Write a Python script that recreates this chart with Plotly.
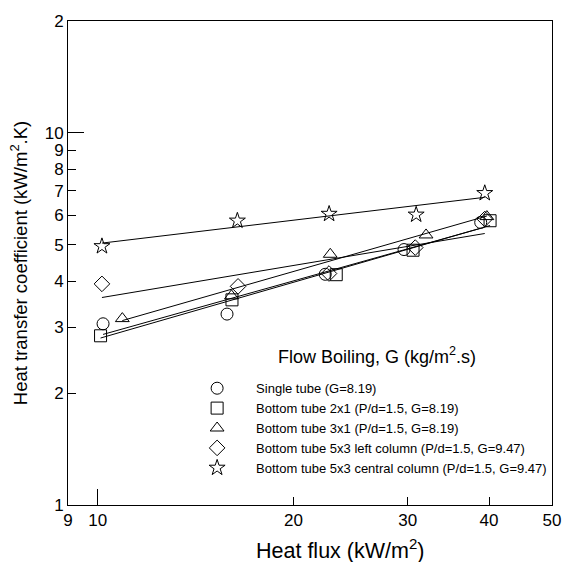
import numpy as np
import plotly.graph_objects as go

# ---- data ----
series_names = [
    "Single tube (G=8.19)",
    "Bottom tube 2x1 (P/d=1.5, G=8.19)",
    "Bottom tube 3x1 (P/d=1.5, G=8.19)",
    "Bottom tube 5x3 left column (P/d=1.5, G=9.47)",
    "Bottom tube 5x3 central column (P/d=1.5, G=9.47)",
]
q_single = [10.19, 15.81, 22.39, 29.6, 38.84]
h_single = [3.07, 3.26, 4.17, 4.86, 5.75]
q_2x1 = [10.1, 16.09, 23.28, 30.56, 40.15]
h_2x1 = [2.85, 3.56, 4.16, 4.84, 5.81]
q_3x1 = [10.91, 16.06, 22.79, 32.0, 39.7]
h_3x1 = [3.17, 3.65, 4.72, 5.32, 5.96]
q_left = [10.15, 16.44, 22.69, 30.8, 39.4]
h_left = [3.93, 3.87, 4.19, 4.92, 5.87]
q_central = [10.15, 16.4, 22.7, 30.9, 39.4]
h_central = [4.96, 5.81, 6.06, 6.03, 6.89]

x_tickvals = [9, 10, 20, 30, 40, 50]
x_ticktext = ["9", "10", "20", "30", "40", "50"]
y_tickvals = [1, 2, 3, 4, 5, 6, 7, 8, 9, 10, 20]
y_ticktext = ["1", "2", "3", "4", "5", "6", "7", "8", "9", "10", "2"]

legend_title = "Flow Boiling, G (kg/m<sup>2</sup>.s)"
x_title = "Heat flux (kW/m<sup>2</sup>)"
y_title = "Heat transfer coefficient (kW/m<sup>2</sup>.K)"

symbols = ["circle-open", "square-open", "triangle-up-open", "diamond-open", "star-open"]
xs = [q_single, q_2x1, q_3x1, q_left, q_central]
ys = [h_single, h_2x1, h_3x1, h_left, h_central]

FONT = "Liberation Sans, Arial, sans-serif"

fig = go.Figure()

# power-law least-squares fit lines
for x, y in zip(xs, ys):
    lx, ly = np.log10(x), np.log10(y)
    b, a = np.polyfit(lx, ly, 1)
    xe = np.array([min(x), max(x)])
    ye = 10 ** (a + b * np.log10(xe))
    fig.add_trace(go.Scatter(x=xe, y=ye, mode="lines", showlegend=False,
                             line=dict(color="black", width=1), hoverinfo="skip"))

for name, sym, x, y in zip(series_names, symbols, xs, ys):
    fig.add_trace(go.Scatter(x=x, y=y, mode="markers", name=name,
                             marker=dict(symbol=sym, size=12, color="black",
                                         line=dict(width=1, color="black"))))

fig.update_layout(
    width=573, height=562,
    margin=dict(l=68, r=17, t=17, b=57),
    paper_bgcolor="white", plot_bgcolor="white",
    font=dict(family=FONT, color="black", size=17),
    legend=dict(
        font=dict(size=13, family=FONT),
        x=0.2275, y=0.2722, xanchor="left", yanchor="top",
        bgcolor="rgba(0,0,0,0)", borderwidth=0,
        tracegroupgap=0, itemwidth=68,
    ),
    annotations=[
        dict(text=legend_title, xref="paper", yref="paper", x=0.6388, y=0.3094,
             xanchor="center", yanchor="middle", showarrow=False,
             font=dict(size=18, family=FONT, color="black")),
        dict(text=x_title, xref="paper", yref="paper", x=0.562, y=-0.090,
             xanchor="center", yanchor="middle", showarrow=False,
             font=dict(size=21.5, family=FONT, color="black")),
    ],
)

fig.update_xaxes(
    type="log", range=[np.log10(9), np.log10(50)],
    tickmode="array", tickvals=x_tickvals, ticktext=x_ticktext,
    ticks="inside", ticklen=8, tickwidth=1, tickcolor="black",
    minor=dict(tickmode="array", tickvals=[10], ticks="inside", ticklen=16,
               tickwidth=1, tickcolor="black", showgrid=False),
    showline=True, linecolor="black", linewidth=1, mirror=True,
    showgrid=False, zeroline=False,
    tickfont=dict(size=17, family=FONT),
)
fig.update_yaxes(
    type="log", range=[0, np.log10(20)],
    tickmode="array", tickvals=y_tickvals, ticktext=y_ticktext,
    ticks="inside", ticklen=8, tickwidth=1, tickcolor="black",
    minor=dict(tickmode="array", tickvals=[1, 10], ticks="inside", ticklen=16,
               tickwidth=1, tickcolor="black", showgrid=False),
    showline=True, linecolor="black", linewidth=1, mirror=True,
    showgrid=False, zeroline=False,
    tickfont=dict(size=17, family=FONT),
    title=dict(text=y_title, font=dict(size=18.5, family=FONT), standoff=12),
)

fig.write_html("out.html")
